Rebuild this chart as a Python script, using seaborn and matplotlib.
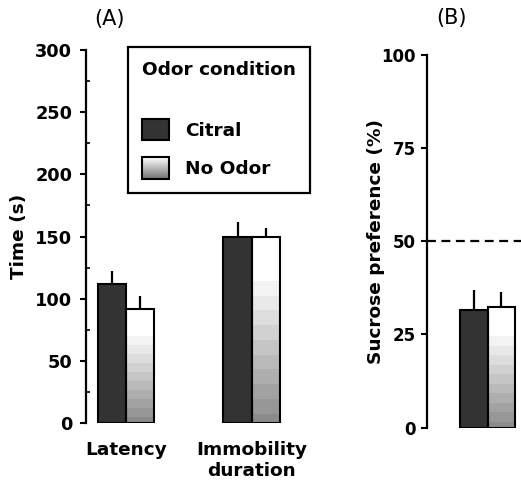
import numpy as np
import pandas as pd
import matplotlib
matplotlib.use("Agg")
from matplotlib import pyplot as plt
from matplotlib.patches import Patch, Rectangle
from matplotlib.legend_handler import HandlerBase
from matplotlib.image import BboxImage
from matplotlib.transforms import Bbox, TransformedBbox
from matplotlib.colors import Normalize
import seaborn as sns

# values
categories = ["Latency", "Immobility\nduration"]
conditions = ["Citral", "No Odor"]
time_citral = [112, 150]
time_noodor = [92, 150]
time_sem_citral = [10, 12]
time_sem_noodor = [10, 7]
sucrose_mean = [31.5, 32.3]
sucrose_sem = [5.5, 4.0]

sns.set_style("ticks")
plt.rcParams["font.family"] = ["DejaVu Sans"]
plt.rcParams["font.weight"] = "bold"
for key in ["text.color", "axes.labelcolor", "xtick.color", "ytick.color", "axes.edgecolor"]:
    plt.rcParams[key] = "black"

FS = 13.3
DARK = "#333333"
colors = {"Citral": DARK, "No Odor": "white"}

# banded white -> grey gradient like the original print
f = np.linspace(0, 1, 400)
grad_bar = np.round(np.clip(0.54 + 0.46 * f / 0.8, 0, 1) * 22) / 22
grad_bar = grad_bar[:, None]
grad_leg = np.linspace(0.45, 1.0, 100)[:, None]


class GradientHandler(HandlerBase):
    def create_artists(self, legend, orig_handle, xdescent, ydescent,
                       width, height, fontsize, trans):
        bb = TransformedBbox(Bbox.from_bounds(-xdescent, -ydescent, width, height), trans)
        img = BboxImage(bb, cmap="gray", norm=Normalize(0, 1), origin="lower",
                        interpolation="bilinear")
        img.set_data(grad_leg)
        rect = Rectangle((-xdescent, -ydescent), width, height, facecolor="none",
                         edgecolor="black", lw=1.5, transform=trans)
        return [img, rect]


def draw_bars(ax, df, sems, width):
    sns.barplot(data=df, x="cat", y="val", hue="cond", palette=colors,
                hue_order=conditions, errorbar=None, width=width,
                edgecolor="black", linewidth=1.5, ax=ax, legend=False)
    for cont, sem in zip(ax.containers, sems):
        xs = [p.get_x() + p.get_width() / 2 for p in cont]
        ys = [p.get_height() for p in cont]
        ax.errorbar(xs, ys, yerr=[np.zeros(len(sem)), sem], fmt="none",
                    ecolor="black", elinewidth=1.6, capsize=0, zorder=0.8)
    for p in ax.containers[1]:
        p.set_facecolor("none")
        x0, w, h = p.get_x(), p.get_width(), p.get_height()
        ax.imshow(grad_bar, extent=[x0, x0 + w, 0, h], origin="lower",
                  cmap="gray", vmin=0, vmax=1, aspect="auto", zorder=0.5,
                  interpolation="nearest")


fig = plt.figure(figsize=(5.21, 4.86), dpi=100)

# ---- panel A
axA = fig.add_axes([0.165, 0.1296, 0.44, 0.7675])
dfA = pd.DataFrame({
    "cat": categories * 2,
    "cond": ["Citral"] * 2 + ["No Odor"] * 2,
    "val": time_citral + time_noodor,
})
draw_bars(axA, dfA, [time_sem_citral, time_sem_noodor], 0.45)
axA.set_xlim(-0.319, 1.506)
axA.set_ylim(0, 300)
axA.set_yticks(range(0, 301, 50))
axA.set_yticks(range(25, 300, 50), minor=True)
axA.set_ylabel("Time (s)", fontsize=FS, fontweight="bold", labelpad=5)
axA.set_xlabel("")
axA.tick_params(axis="y", which="major", labelsize=12.8, length=4.3, width=1.5, pad=5.5)
axA.tick_params(axis="y", which="minor", direction="in", length=3, width=1.2)
axA.tick_params(axis="x", length=0, labelsize=FS, pad=13)
for lab in axA.get_xticklabels() + axA.get_yticklabels():
    lab.set_fontweight("bold")
sns.despine(ax=axA, bottom=True)
axA.spines["left"].set_linewidth(1.6)
fig.text(109 / 521, 1 - 19 / 486, "(A)", ha="center", va="center",
         fontsize=15, fontweight="normal")

handles = [Patch(facecolor=DARK, edgecolor="black", lw=1.5),
           Patch(facecolor="white", edgecolor="black")]
leg = axA.legend(handles, conditions, title="Odor condition",
                 loc="upper left", bbox_to_anchor=(128 / 521, 1 - 47 / 486),
                 bbox_transform=fig.transFigure, borderaxespad=0,
                 handler_map={handles[1]: GradientHandler()},
                 prop={"size": FS, "weight": "bold"},
                 title_fontproperties={"size": FS, "weight": "bold"},
                 handlelength=1.46, handleheight=1.4, handletextpad=0.86,
                 labelspacing=0.92, borderpad=0.75, alignment="left",
                 fancybox=False, frameon=True, framealpha=1)
leg.get_frame().set_edgecolor("black")
leg.get_frame().set_linewidth(1.6)
leg._legend_box.sep = 29

# ---- panel B
axB = fig.add_axes([0.8196, 0.12, 94 / 521, 0.767])
dfB = pd.DataFrame({
    "cat": ["Sucrose"] * 2,
    "cond": conditions,
    "val": sucrose_mean,
})
draw_bars(axB, dfB, [[sucrose_sem[0]], [sucrose_sem[1]]], 0.8)
axB.axhline(50, color="black", lw=1.6, ls=(0, (4, 2.5)), zorder=0.3)
axB.set_xlim(-0.88, 0.487)
axB.set_ylim(0, 100)
axB.set_yticks([0, 25, 50, 75, 100])
axB.set_xticks([])
axB.set_xlabel("")
axB.set_ylabel("Sucrose preference (%)", fontsize=FS, fontweight="bold")
axB.yaxis.set_label_coords(-0.445, 0.5)
axB.tick_params(axis="y", labelsize=12, length=4.3, width=1.5, pad=3.5)
for lab in axB.get_yticklabels():
    lab.set_fontweight("bold")
sns.despine(ax=axB, bottom=True)
axB.spines["left"].set_linewidth(1.6)
fig.text(451 / 521, 1 - 18 / 486, "(B)", ha="center", va="center",
         fontsize=15, fontweight="normal")

fig.savefig("out.png", dpi=100)
